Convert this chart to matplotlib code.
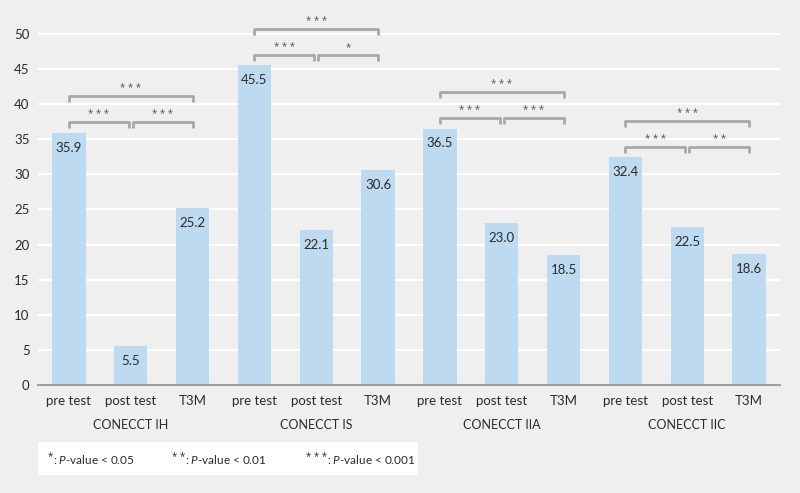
import matplotlib
matplotlib.use("Agg")
import matplotlib.pyplot as plt
from matplotlib.patches import Rectangle

plt.rcParams['font.family'] = ['Lato', 'DejaVu Sans']
plt.rcParams['mathtext.fontset'] = 'custom'
plt.rcParams['mathtext.it'] = 'Lato:italic'
plt.rcParams['mathtext.rm'] = 'Lato'

groups = ["CONECCT IH", "CONECCT IS", "CONECCT IIA", "CONECCT IIC"]
timepoints = ["pre test", "post test", "T3M"]
values = [
    [35.9, 5.5, 25.2],
    [45.5, 22.1, 30.6],
    [36.5, 23.0, 18.5],
    [32.4, 22.5, 18.6],
]
# significance: (pre vs post, post vs T3M, pre vs T3M)
sig = [
    ["***", "***", "***"],
    ["***", "*", "***"],
    ["***", "***", "***"],
    ["***", "**", "***"],
]
yticks = [0, 5, 10, 15, 20, 25, 30, 35, 40, 45, 50]
legend_items = ["*", "**", "***"]
legend_thresholds = ["0.05", "0.01", "0.001"]

bg = "#efefef"
bar_color = "#bddaf0"
br_color = "#a8a8a8"
txt = "#2b2b2b"
star_font = ['Open Sans', 'DejaVu Sans']

fig = plt.figure(figsize=(8, 4.93), dpi=100, facecolor=bg)
ax = fig.add_axes([0.0475, 0.219, 0.9275, 0.748])
ax.set_facecolor(bg)

n = len(timepoints)
xs_all = []
for g, vals in enumerate(values):
    xs = [g * n + i for i in range(n)]
    xs_all.extend(xs)
    ax.bar(xs, vals, width=0.54, color=bar_color, zorder=2)
    for x, v in zip(xs, vals):
        ax.text(x, v - 2.1, f"{v:.1f}", ha="center", va="center",
                fontsize=9.5, color=txt, zorder=3)
    top = max(vals)
    inner = top + 1.5
    outer = top + 5.2
    tick = 0.8
    gap = 0.035
    pairs = [(xs[0], xs[1] - gap, inner, sig[g][0]),
             (xs[1] + gap, xs[2], inner, sig[g][1]),
             (xs[0], xs[2], outer, sig[g][2])]
    for x0, x1, h, s in pairs:
        ax.plot([x0, x0, x1, x1], [h - tick, h, h, h - tick],
                color=br_color, lw=2, solid_capstyle="butt", zorder=3)
        ax.text((x0 + x1) / 2, h + 0.3, " ".join(s), ha="center",
                va="bottom", fontsize=7, color="#555555", family=star_font)
    ax.text(g * n + 1, -5.7, groups[g], ha="center", va="center",
            fontsize=9, color=txt)

ax.set_xticks(xs_all)
ax.set_xticklabels(timepoints * len(groups), fontsize=9.5, color=txt)
ax.tick_params(axis="x", length=0, pad=7)
ax.set_xlim(-0.5, len(xs_all) - 0.5)
ax.set_ylim(0, 52.5)
ax.set_yticks(yticks)
ax.set_yticklabels([str(t) for t in yticks], fontsize=9.5, color=txt)
ax.tick_params(axis="y", length=0, pad=6)
ax.grid(axis="y", color="white", lw=1.6, zorder=0)
ax.set_axisbelow(True)
for sp in ["top", "right", "left"]:
    ax.spines[sp].set_visible(False)
ax.spines["bottom"].set_color("#a0a0a0")
ax.spines["bottom"].set_linewidth(1.5)

# legend box
fig.patches.append(Rectangle((38 / 800, 1 - 475 / 493), 380 / 800, 33 / 493,
                             transform=fig.transFigure, facecolor="white",
                             edgecolor="none"))
renderer = fig.canvas.get_renderer()
lx = [48, 172, 306]
ly = 1 - 459 / 493
for x, s, t in zip(lx, legend_items, legend_thresholds):
    st = fig.text(x / 800, ly + 0.004, " ".join(s), ha="left", va="center",
                  fontsize=7, color=txt, family=star_font)
    bb = st.get_window_extent(renderer)
    fig.text(bb.x1 / 800, ly, r": $\it{P}$" + f"-value < {t}",
             ha="left", va="center", fontsize=8.5, color=txt)

fig.savefig("out.png", dpi=100, facecolor=bg)
